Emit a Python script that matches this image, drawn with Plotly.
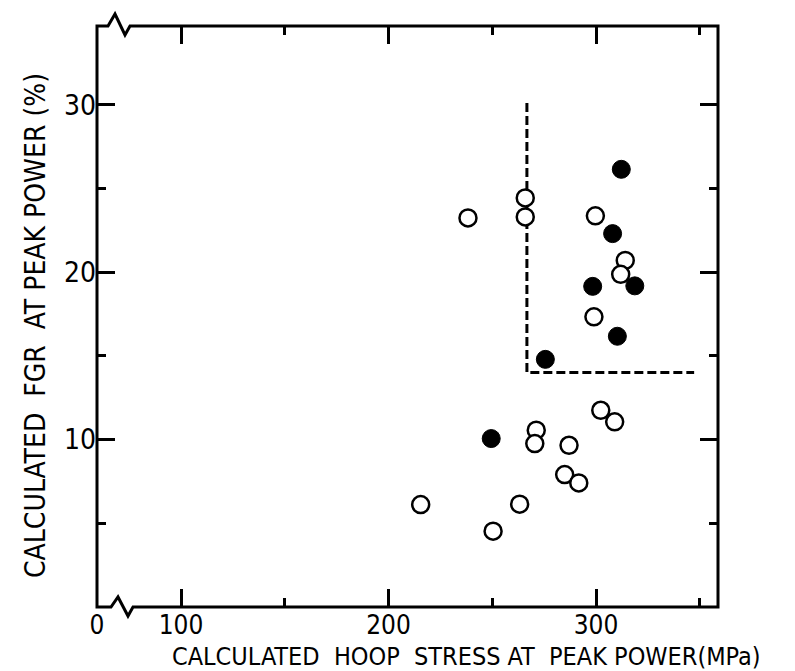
import plotly.graph_objects as go

# Data
open_x = [271.2, 270.5, 287.0, 302.3, 309.0, 284.9, 291.7, 215.5, 263.2, 250.4,
          265.9, 265.9, 299.7, 314.1, 311.9, 299.0, 238.3]
open_y = [10.56, 9.76, 9.66, 11.75, 11.06, 7.91, 7.41, 6.12, 6.14, 4.53,
          24.43, 23.30, 23.36, 20.70, 19.87, 17.33, 23.24]
filled_x = [249.5, 312.2, 308.0, 298.4, 318.7, 310.3, 275.6]
filled_y = [10.06, 26.14, 22.30, 19.15, 19.18, 16.17, 14.79]

limit_x = [266.7, 266.7, 347.3]
limit_y = [30.1, 14.0, 14.0]

x_tickvals = [59.5, 100, 200, 300]
x_ticktext = ["0", "100", "200", "300"]
x_minor = [150, 250, 350]
y_tickvals = [10, 20, 30]
y_ticktext = ["10", "20", "30"]
y_minor = [5, 15, 25]

FONT = "DejaVu Sans Condensed, Liberation Sans Narrow, sans-serif"

fig = go.Figure()
fig.add_trace(go.Scatter(x=limit_x, y=limit_y, mode="lines",
                         line=dict(color="black", width=3, dash="9px,4px"),
                         showlegend=False, hoverinfo="skip"))
fig.add_trace(go.Scatter(x=open_x, y=open_y, mode="markers",
                         marker=dict(symbol="circle", size=17, color="white",
                                     line=dict(color="black", width=2.5)),
                         showlegend=False))
fig.add_trace(go.Scatter(x=filled_x, y=filled_y, mode="markers",
                         marker=dict(symbol="circle", size=18, color="black",
                                     line=dict(color="black", width=1)),
                         showlegend=False))

L, R, T, B = 89, 710, 18, 599
W, H = 795, 671
pw, ph = R - L, B - T

def px(x):
    return (x - L) / pw

def py(y):
    return (B - y) / ph

frame = (f"M {px(L)},{py(T)} L {px(100)},{py(T)} L {px(107)},{py(6)} L {px(117)},{py(27)} "
         f"L {px(122)},{py(T)} L {px(R)},{py(T)} L {px(R)},{py(B)} "
         f"L {px(125)},{py(B)} L {px(120)},{py(608)} L {px(110)},{py(589)} L {px(103)},{py(B)} "
         f"L {px(L)},{py(B)} Z")

fig.update_layout(
    width=W, height=H,
    margin=dict(l=L, r=W - R, t=T, b=H - B),
    plot_bgcolor="white", paper_bgcolor="white",
    font=dict(family=FONT, color="black"),
    shapes=[dict(type="path", xref="paper", yref="paper", path=frame,
                 line=dict(color="black", width=3), layer="above")],
    xaxis=dict(range=[59.5, 358.8], showgrid=False, zeroline=False, showline=False,
               ticks="inside", ticklen=18, tickwidth=3, tickcolor="black",
               mirror="ticks", tickvals=x_tickvals, ticktext=x_ticktext,
               tickfont=dict(size=26, family=FONT),
               minor=dict(tickvals=x_minor, ticks="inside", ticklen=9,
                          tickwidth=3, tickcolor="black", showgrid=False)),
    yaxis=dict(range=[0, 34.7], showgrid=False, zeroline=False, showline=False,
               ticks="inside", ticklen=18, tickwidth=3, tickcolor="black",
               mirror="ticks", tickvals=y_tickvals, ticktext=y_ticktext,
               tickfont=dict(size=28, family=FONT),
               minor=dict(tickvals=y_minor, ticks="inside", ticklen=9,
                          tickwidth=3, tickcolor="black", showgrid=False)),
    annotations=[
        dict(text="CALCULATED  HOOP  STRESS AT  PEAK POWER(MPa)", xref="paper", yref="paper",
             x=px(458), y=py(648), xanchor="center", yanchor="middle", showarrow=False,
             font=dict(size=25, family=FONT)),
        dict(text="CALCULATED  FGR  AT PEAK POWER (%)", xref="paper", yref="paper",
             x=px(28), y=py(318), xanchor="center", yanchor="middle", showarrow=False,
             textangle=-90, font=dict(size=28, family=FONT)),
    ],
)

fig.write_html("out.html")
